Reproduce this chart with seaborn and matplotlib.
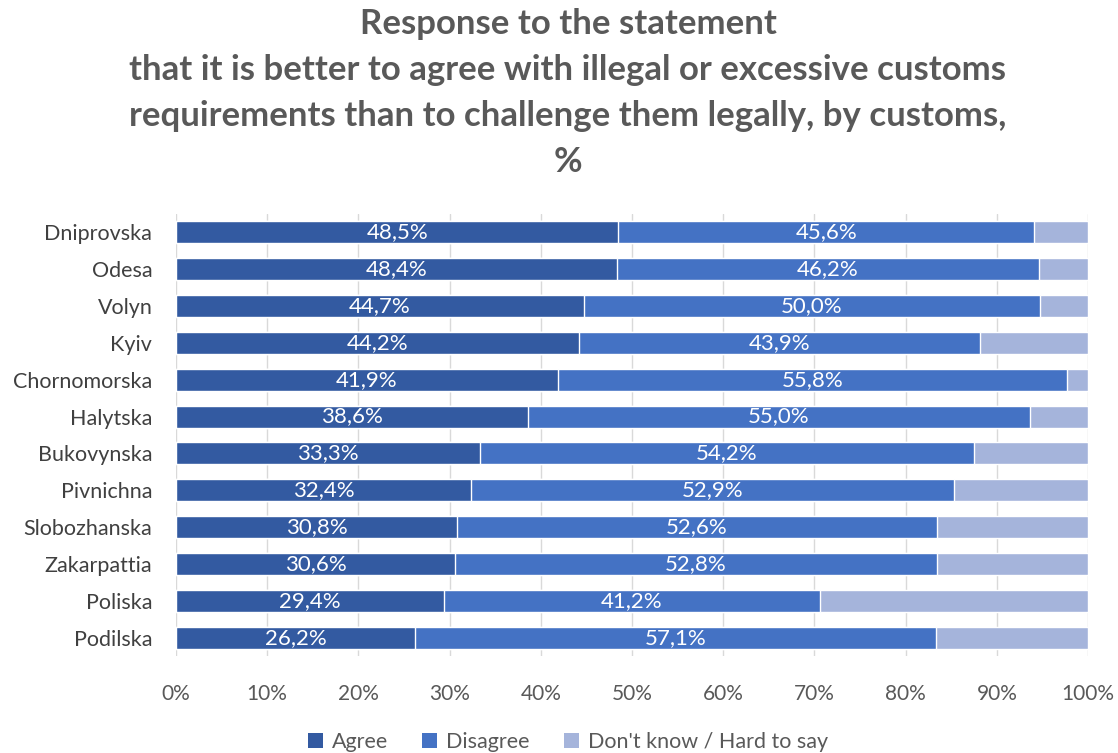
import matplotlib
matplotlib.use("Agg")
import matplotlib.pyplot as plt
import seaborn as sns
import pandas as pd
import numpy as np
from matplotlib.patches import Patch

customs = ["Dniprovska", "Odesa", "Volyn", "Kyiv", "Chornomorska", "Halytska",
           "Bukovynska", "Pivnichna", "Slobozhanska", "Zakarpattia", "Poliska", "Podilska"]
agree = [48.5, 48.4, 44.7, 44.2, 41.9, 38.6, 33.3, 32.4, 30.8, 30.6, 29.4, 26.2]
disagree = [45.6, 46.2, 50.0, 43.9, 55.8, 55.0, 54.2, 52.9, 52.6, 52.8, 41.2, 57.1]
dont_know = [100 - a - d for a, d in zip(agree, disagree)]
series_names = ["Agree", "Disagree", "Don't know / Hard to say"]
x_ticks = [0, 10, 20, 30, 40, 50, 60, 70, 80, 90, 100]

colors = ["#335AA1", "#4472C4", "#A5B4DB"]

sns.set_style("white")
plt.rcParams['font.family'] = ['Lato', 'DejaVu Sans']

df = pd.DataFrame({"customs": customs, "agree": agree, "disagree": disagree, "dk": dont_know})
df["c2"] = df["agree"] + df["disagree"]
df["c3"] = df["c2"] + df["dk"]

fig = plt.figure(figsize=(11.18, 7.53), dpi=100)
ax = fig.add_axes([0.1574, 0.1288, 0.8158, 0.587])

for col, c in zip(["c3", "c2", "agree"], colors[::-1]):
    sns.barplot(data=df, x=col, y="customs", orient="h", color=c, width=0.6,
                ax=ax, order=customs, saturation=1, zorder=3)

ax.set_xlim(0, 100)
ax.set_xticks(x_ticks)
ax.set_xticklabels([f"{t}%" for t in x_ticks], fontsize=15, color="#595959")
ax.tick_params(axis="y", labelsize=15.5, labelcolor="#404040", length=0, pad=17)
ax.tick_params(axis="x", length=6, color="#D9D9D9", width=1, pad=14)
ax.set_xlabel("")
ax.set_ylabel("")
ax.grid(axis="x", color="#D9D9D9", linewidth=1, zorder=0)
ax.set_axisbelow(True)
for s in ax.spines.values():
    s.set_visible(False)

for i, (a, d) in enumerate(zip(agree, disagree)):
    ax.text(a / 2, i, f"{a:.1f}%".replace(".", ","), ha="center", va="center",
            color="white", fontsize=16, zorder=5)
    ax.text(a + d / 2, i, f"{d:.1f}%".replace(".", ","), ha="center", va="center",
            color="white", fontsize=16, zorder=5)

fig.suptitle("Response to the statement\nthat it is better to agree with illegal or excessive customs\n"
             "requirements than to challenge them legally, by customs,\n%",
             x=0.508, y=0.99, fontsize=25, fontweight="bold", color="#595959", linespacing=1.55)

handles = [Patch(facecolor=c, edgecolor="none") for c in colors]
fig.legend(handles, series_names, loc="lower center", bbox_to_anchor=(0.508, -0.024), ncol=3,
           frameon=False, fontsize=15.5, handlelength=0.7, handleheight=0.7,
           columnspacing=1.6, handletextpad=0.4, labelcolor="#595959")

fig.savefig("out.png", dpi=100)
